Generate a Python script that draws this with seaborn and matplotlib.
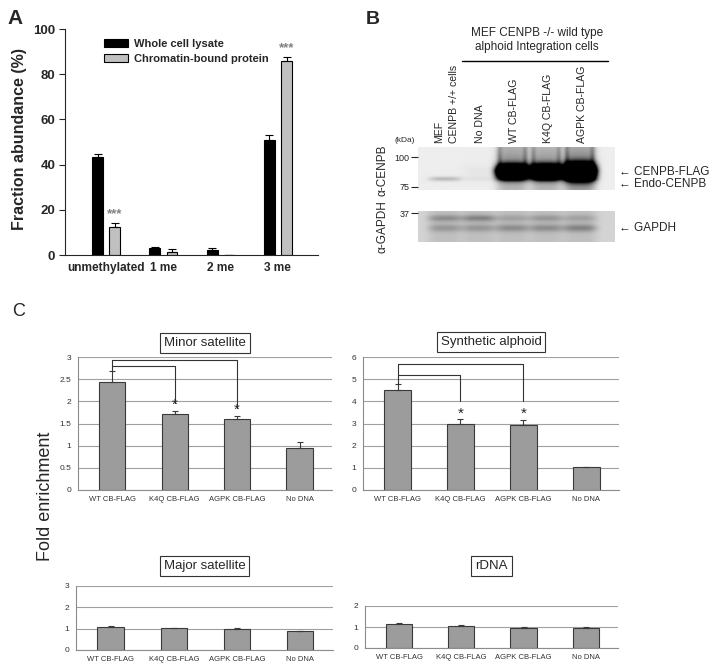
import numpy as np
import pandas as pd
import matplotlib
matplotlib.use("Agg")
import matplotlib.pyplot as plt
import matplotlib.transforms as mtransforms
from matplotlib.lines import Line2D
from matplotlib.ticker import FuncFormatter
import seaborn as sns

# ---- panel A data: methylation states ----
states = ["unmethylated", "1 me", "2 me", "3 me"]
fractions = ["Whole cell lysate", "Chromatin-bound protein"]
whole_mean = [43.5, 3.2, 2.0, 51.0]
whole_err = [1.0, 0.4, 1.3, 2.2]
chrom_mean = [12.5, 1.2, 0.2, 86.0]
chrom_err = [1.8, 1.4, 0.0, 1.8]
chrom_sig = ["***", "", "", "***"]

# ---- panel B data: western blot lanes ----
lanes = ["MEF\nCENPB +/+ cells", "No DNA", "WT CB-FLAG", "K4Q CB-FLAG", "AGPK CB-FLAG"]
flag_kda = 87.5
flag_signal = [0.0, 0.03, 3.0, 3.0, 3.5]
flag_sigma = [4.0, 4.0, 4.0, 4.0, 4.8]
flag_smear = [0.0, 0.0, 0.70, 0.65, 0.80]
flag_tail = [0.0, 0.0, 0.22, 0.22, 0.30]
endo_kda = 81.5
endo_signal = [0.20, 0.04, 0.30, 0.30, 0.40]
gapdh_kda = 32.6
gapdh_signal = [0.16, 0.16, 0.20, 0.20, 0.24]
gapdh_top_kda = 35.5
gapdh_top_signal = [0.20, 0.24, 0.12, 0.16, 0.12]

# ---- panel C data: ChIP fold enrichment ----
samples = ["WT CB-FLAG", "K4Q CB-FLAG", "AGPK CB-FLAG", "No DNA"]
signif = ["", "*", "*", ""]
minor_mean = [2.43, 1.71, 1.61, 0.94]
minor_err = [0.25, 0.08, 0.07, 0.14]
minor_bracket = [2.80, 2.94]
minor_bracket_end = [1.97, 1.86]
synth_mean = [4.50, 2.99, 2.95, 1.02]
synth_err = [0.30, 0.20, 0.22, 0.03]
synth_bracket = [5.20, 5.68]
synth_bracket_end = [4.00, 4.00]
major_mean = [1.10, 1.01, 0.97, 0.87]
major_err = [0.04, 0.04, 0.04, 0.04]
rdna_mean = [1.12, 1.05, 0.97, 0.97]
rdna_err = [0.07, 0.06, 0.03, 0.04]

W, H = 714, 670

sns.set_style("ticks")
plt.rcParams["font.family"] = ["Liberation Sans", "DejaVu Sans"]

fig = plt.figure(figsize=(W / 100, H / 100), dpi=100)


def px_rect(x0, y0, x1, y1):
    return [x0 / W, 1 - y1 / H, (x1 - x0) / W, (y1 - y0) / H]


def fig_text(x, y, s, **kw):
    fig.text(x / W, 1 - y / H, s, **kw)


# ================= Panel A =================
axA = fig.add_axes(px_rect(65, 29, 318, 255))
dfA = pd.DataFrame({
    "state": states * 2,
    "fraction": [fractions[0]] * 4 + [fractions[1]] * 4,
    "value": whole_mean + chrom_mean,
})
sns.barplot(data=dfA, x="state", y="value", hue="fraction",
            palette=["black", "#c0c0c0"], saturation=1, width=0.6, gap=0.37,
            edgecolor="black", linewidth=0.8, errorbar=None, ax=axA)
for k, (cont, errs) in enumerate(zip(axA.containers, [whole_err, chrom_err])):
    xs = [b.get_x() + b.get_width() / 2 for b in cont]
    ys = [b.get_height() for b in cont]
    axA.errorbar(xs, ys, yerr=[np.zeros(len(errs)), errs], fmt="none",
                 ecolor="black", elinewidth=0.8, capsize=3, capthick=0.8)
    if k == 1:
        for x, y, e, s in zip(xs, ys, errs, chrom_sig):
            if s:
                axA.annotate(s, (x, y + e), xytext=(0, 1.5), textcoords="offset points",
                             ha="center", va="bottom", fontsize=9.5, color="#808080",
                             fontweight="bold")
axA.set_xlim(-0.72, 3.70)
axA.set_ylim(0, 100)
axA.set_yticks(range(0, 101, 20))
axA.set_xlabel("")
axA.set_ylabel("")
sns.despine(ax=axA)
axA.tick_params(axis="x", length=0, pad=5, labelsize=8.6)
axA.tick_params(axis="y", length=4, width=0.8, pad=3, labelsize=9.5)
for lab in axA.get_xticklabels() + axA.get_yticklabels():
    lab.set_fontweight("bold")
handles, labels = axA.get_legend_handles_labels()
axA.legend(handles, labels, loc="upper left", bbox_to_anchor=(0.135, 0.975),
           frameon=False, prop={"size": 8, "weight": "bold"},
           handlelength=2.2, handleheight=0.75, handletextpad=0.5,
           labelspacing=0.4, borderaxespad=0)
fig_text(20, 139, "Fraction abundance (%)", rotation=90, ha="center", va="center",
         fontsize=11.5, fontweight="bold")
fig_text(7, 18, "A", fontsize=15, fontweight="bold", va="center")

# ================= Panel B =================
fig_text(366, 19, "B", fontsize=14, fontweight="bold", va="center")
xlim_b = (-0.8, 5.04)


def lane_profile(X, i, hw=0.47):
    return np.exp(-np.abs((X - i) / hw) ** 4)


axB1 = fig.add_axes(px_rect(418, 147, 615, 190))
xs = np.linspace(xlim_b[0], xlim_b[1], 400)
ys = np.linspace(72, 109, 160)
X, Y = np.meshgrid(xs, ys)
img = np.full_like(X, 0.07)
for i in range(len(lanes)):
    lp = lane_profile(X, i)
    edge = np.exp(-((np.abs(X - i) - 0.38) / 0.08) ** 2)
    band = flag_signal[i] * np.exp(-0.5 * ((Y - flag_kda) / flag_sigma[i]) ** 2)
    above = np.where(Y > flag_kda, np.exp(-(Y - flag_kda) / 30.0), 0)
    smear = flag_smear[i] * above * (0.7 * lp + 0.5 * edge)
    tail = flag_tail[i] * lp * np.where(Y < flag_kda, 1.0, 0)
    endo = endo_signal[i] * np.exp(-0.5 * ((Y - endo_kda) / 1.4) ** 2)
    img += lp * (band + endo) + smear + tail
axB1.imshow(np.clip(img, 0, 1), cmap="gray_r", vmin=0, vmax=1, origin="lower",
            extent=[xlim_b[0], xlim_b[1], 72, 109], aspect="auto", interpolation="bilinear")
axB1.set_xlim(*xlim_b)
axB1.set_ylim(72, 109)

axB2 = fig.add_axes(px_rect(418, 211, 615, 242))
ys2 = np.linspace(28.5, 37.6, 100)
X2, Y2 = np.meshgrid(xs, ys2)
img2 = np.full_like(X2, 0.17)
for i in range(len(lanes)):
    lp = lane_profile(X2, i, 0.5)
    g1 = gapdh_signal[i] * np.exp(-0.5 * ((Y2 - gapdh_kda) / 0.8) ** 2)
    g2 = gapdh_top_signal[i] * np.exp(-0.5 * ((Y2 - gapdh_top_kda) / 0.7) ** 2)
    img2 += lp * (0.08 + g1 + g2)
axB2.imshow(np.clip(img2, 0, 1), cmap="gray_r", vmin=0, vmax=1, origin="lower",
            extent=[xlim_b[0], xlim_b[1], 28.5, 37.6], aspect="auto", interpolation="bilinear")
axB2.set_xlim(*xlim_b)
axB2.set_ylim(28.5, 37.6)

for ax, ticks in [(axB1, [100, 75]), (axB2, [37])]:
    for sp in ax.spines.values():
        sp.set_visible(False)
    ax.set_xticks([])
    ax.set_yticks(ticks)
    ax.set_yticklabels([str(t) for t in ticks])
    ax.tick_params(axis="y", length=5, width=0.8, pad=1, labelsize=6.5)

trans = mtransforms.blended_transform_factory(axB1.transData, axB1.transAxes)
for i, name in enumerate(lanes):
    axB1.text(i + 0.05, 1.09, name, transform=trans, rotation=90, ha="center",
              va="bottom", fontsize=7.6, multialignment="left", linespacing=1.55)
fig_text(405, 141, "(kDa)", ha="center", va="center", fontsize=6)
fig_text(537, 40, "MEF CENPB -/- wild type\nalphoid Integration cells",
         ha="center", va="center", fontsize=8.5, linespacing=1.2)
fig.add_artist(Line2D([462 / W, 608 / W], [1 - 61 / H, 1 - 61 / H], color="black", lw=1))
fig_text(382, 170, "α-CENPB", rotation=90, ha="center", va="center", fontsize=8.5)
fig_text(382, 227, "α-GAPDH", rotation=90, ha="center", va="center", fontsize=8.5)
rtrans1 = mtransforms.blended_transform_factory(axB1.transAxes, axB1.transData)
arrow_kw = dict(va="center", fontsize=8.5)
axB1.text(1.02, flag_kda, "← CENPB-FLAG", transform=rtrans1, **arrow_kw)
axB1.text(1.02, 77.5, "← Endo-CENPB", transform=rtrans1, **arrow_kw)
rtrans2 = mtransforms.blended_transform_factory(axB2.transAxes, axB2.transData)
axB2.text(1.02, gapdh_kda, "← GAPDH", transform=rtrans2, **arrow_kw)

# ================= Panel C =================
fig_text(12, 311, "C", fontsize=13, va="center")
fig_text(45, 496, "Fold enrichment", rotation=90, ha="center", va="center", fontsize=13)


def enrichment_panel(rect, means, errs, title, ymax, step, title_y,
                     levels=None, ends=None):
    ax = fig.add_axes(px_rect(*rect))
    df = pd.DataFrame({"sample": samples, "value": means})
    sns.barplot(data=df, x="sample", y="value", color="#9c9c9c", saturation=1,
                edgecolor="#3a3a3a", linewidth=0.8, width=0.42, errorbar=None, ax=ax)
    bars = ax.containers[0]
    xs = [b.get_x() + b.get_width() / 2 for b in bars]
    tops = [b.get_height() + e for b, e in zip(bars, errs)]
    ax.errorbar(xs, means, yerr=[np.zeros(len(errs)), errs], fmt="none",
                ecolor="#3a3a3a", elinewidth=0.8, capsize=2, capthick=0.8)
    ax.set_xlim(-0.55, 3.52)
    ax.set_ylim(0, ymax)
    ax.set_yticks(np.arange(0, ymax + step / 2, step))
    ax.yaxis.set_major_formatter(FuncFormatter(lambda v, p: f"{v:g}"))
    ax.yaxis.grid(True, color="#a0a0a0", lw=0.8)
    ax.set_axisbelow(True)
    ax.set_xlabel("")
    ax.set_ylabel("")
    sns.despine(ax=ax)
    for sp in ["left", "bottom"]:
        ax.spines[sp].set_color("#8c8c8c")
        ax.spines[sp].set_linewidth(0.8)
    ax.tick_params(axis="x", length=0, pad=4, labelsize=5.5, colors="#333333")
    ax.tick_params(axis="y", length=0, pad=5, labelsize=6, colors="#333333")
    if levels is not None:
        for x, t, s in zip(xs, tops, signif):
            if s:
                ax.annotate(s, (x, t), xytext=(0, -1), textcoords="offset points",
                            ha="center", va="bottom", fontsize=11)
        ax.plot([xs[0], xs[0]], [max(levels), tops[0]], color="#333333", lw=0.8)
        for j, (lev, end) in enumerate(zip(levels, ends), start=1):
            ax.plot([xs[0], xs[j], xs[j]], [lev, lev, end], color="#333333", lw=0.8)
    ax.text(0.5, title_y, title, transform=ax.transAxes, ha="center", va="center",
            fontsize=9.5,
            bbox=dict(boxstyle="square,pad=0.3", fc="white", ec="#333333", lw=0.8))
    return ax


enrichment_panel((78, 357, 332, 490), minor_mean, minor_err, "Minor satellite",
                 3, 0.5, 1.105, minor_bracket, minor_bracket_end)
enrichment_panel((363, 357, 619, 490), synth_mean, synth_err, "Synthetic alphoid",
                 6, 1, 1.113, synth_bracket, synth_bracket_end)
enrichment_panel((76, 586, 333, 650), major_mean, major_err, "Major satellite",
                 3, 1, 1.3125)
enrichment_panel((365, 606, 618, 648), rdna_mean, rdna_err, "rDNA",
                 2, 1, 1.95)

fig.savefig("out.png", dpi=100)
